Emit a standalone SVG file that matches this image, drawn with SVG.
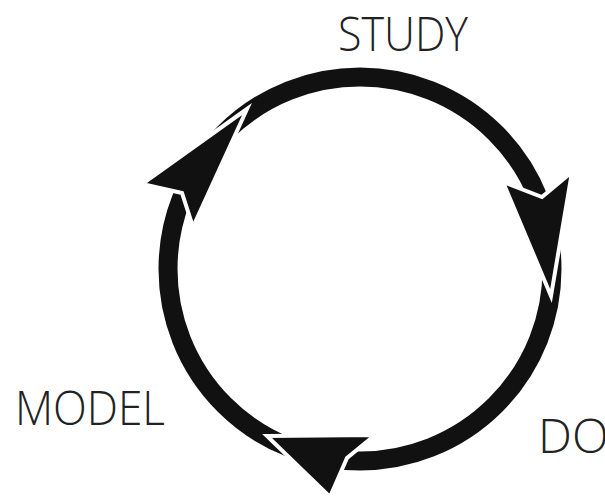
<svg xmlns="http://www.w3.org/2000/svg" width="605" height="497" viewBox="0 0 605 497">
<style>
.lbl{font-family:"Open Sans","Liberation Sans",Arial,sans-serif;font-weight:300;font-size:48px;fill:#222;}
.ring{fill:none;stroke:#111;stroke-width:19;}
.head{fill:#111;stroke:#fff;stroke-width:4;stroke-linejoin:miter;stroke-miterlimit:12;}
</style>
<rect width="605" height="497" fill="#fff"/>
<g id="connectors">
<circle class="ring" cx="360" cy="269" r="192"/>
<polygon class="head" points="247,109 142,184 182,193 193,227"/>
<polygon class="head" points="551,296 503,182 542,197 572,172"/>
<polygon class="head" points="267,436 375,435 347,458 330,497"/>
</g>
<g id="study"><text class="lbl" x="338" y="51" textLength="130" lengthAdjust="spacingAndGlyphs">STUDY</text></g>
<g id="model"><text class="lbl" x="15" y="425" textLength="150" lengthAdjust="spacingAndGlyphs">MODEL</text></g>
<g id="do"><text class="lbl" x="538" y="453">DO</text></g>
</svg>
